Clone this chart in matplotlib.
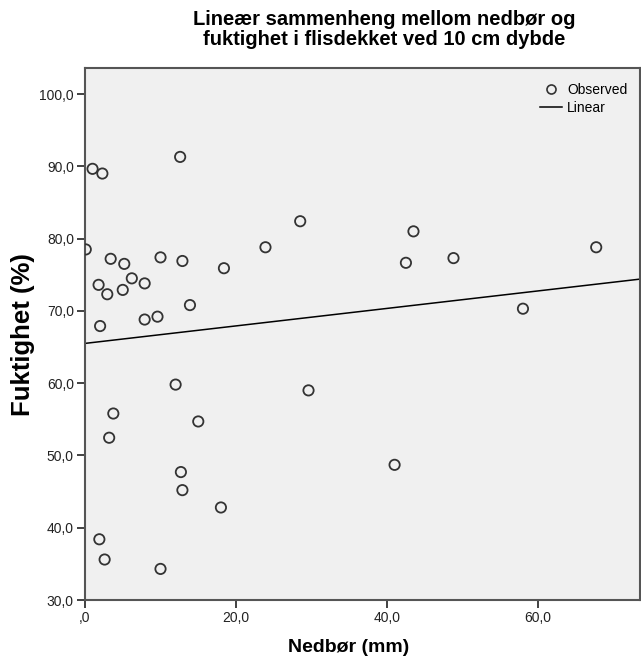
import numpy as np
import matplotlib.pyplot as plt
from matplotlib.lines import Line2D
from matplotlib.ticker import FuncFormatter

plt.rcParams['font.family'] = ['Liberation Sans', 'DejaVu Sans']

# nedbør (mm) og fuktighet (%) lest av figuren
nedbor = [0.1, 1.0, 2.3, 12.6, 28.5, 23.9, 3.4, 5.2, 1.8, 2.95,
          5.0, 6.2, 7.9, 10.0, 12.9, 18.4, 13.9, 2.0, 7.9, 9.6,
          43.5, 42.5, 48.8, 67.7, 58.0,
          12.0, 29.6, 3.75, 3.2, 15.0, 12.7, 12.9, 18.0, 1.9, 2.6, 10.0,
          41.0]
fuktighet = [78.5, 89.65, 89.0, 91.3, 82.4, 78.8, 77.2, 76.5, 73.6, 72.3,
             72.9, 74.5, 73.8, 77.4, 76.9, 75.9, 70.8, 67.9, 68.8, 69.2,
             81.0, 76.65, 77.3, 78.8, 70.3,
             59.8, 59.0, 55.8, 52.45, 54.7, 47.7, 45.2, 42.8, 38.4, 35.6, 34.3,
             48.7]

# lineær tilpasning (avlest)
konstant = 65.5
stigning = 0.121

xmin, xmax = 0, 73.5
ymin, ymax = 30, 103.6

W, H = 641, 658
fig = plt.figure(figsize=(W/100, H/100), dpi=100)
ax = fig.add_axes([85/W, 1-600/H, (640-85)/W, (600-68)/H])
ax.set_facecolor('#f0f0f0')

ax.scatter(nedbor, fuktighet, s=55, facecolors='none', edgecolors='#333333', linewidths=1.3, zorder=3)
xs = np.array([xmin, xmax])
ax.plot(xs, konstant + stigning*xs, color='black', lw=1.1, zorder=2)

ax.set_xlim(xmin, xmax)
ax.set_ylim(ymin, ymax)
ax.set_xticks([0, 20, 40, 60])
ax.set_yticks([30, 40, 50, 60, 70, 80, 90, 100])

def fmt(v, pos):
    s = f"{v:.1f}".replace('.', ',')
    return ',0' if v == 0 else s

ax.xaxis.set_major_formatter(FuncFormatter(fmt))
ax.yaxis.set_major_formatter(FuncFormatter(fmt))
ax.tick_params(direction='out', length=6, width=1.3, color='#333333', labelcolor='#222222',
               labelsize=10, pad=2)
for sp in ax.spines.values():
    sp.set_color('#555555')
    sp.set_linewidth(1.5)

fig.text(349/W, 1-648/H, 'Nedbør (mm)', fontsize=14, fontweight='bold', ha='center', va='center')
fig.text(23/W, 1-335/H, 'Fuktighet (%)', fontsize=18.5, fontweight='bold', rotation=90,
         ha='center', va='center')
fig.text(384/W, 1-10/H, 'Lineær sammenheng mellom nedbør og\nfuktighet i flisdekket ved 10 cm dybde',
         fontsize=14.5, fontweight='bold', ha='center', va='top', linespacing=1.05,
         multialignment='center')

handles = [Line2D([], [], marker='o', ls='none', mfc='none', mec='#333333', ms=6.5, mew=1.2),
           Line2D([], [], color='black', lw=1.1)]
ax.legend(handles, ['Observed', 'Linear'], loc='upper right', frameon=False, fontsize=10,
          handlelength=1.6, handletextpad=0.35, labelspacing=0.3, borderaxespad=0,
          bbox_to_anchor=((633-85)/555, (600-77)/532))

fig.savefig('out.png', dpi=100)
